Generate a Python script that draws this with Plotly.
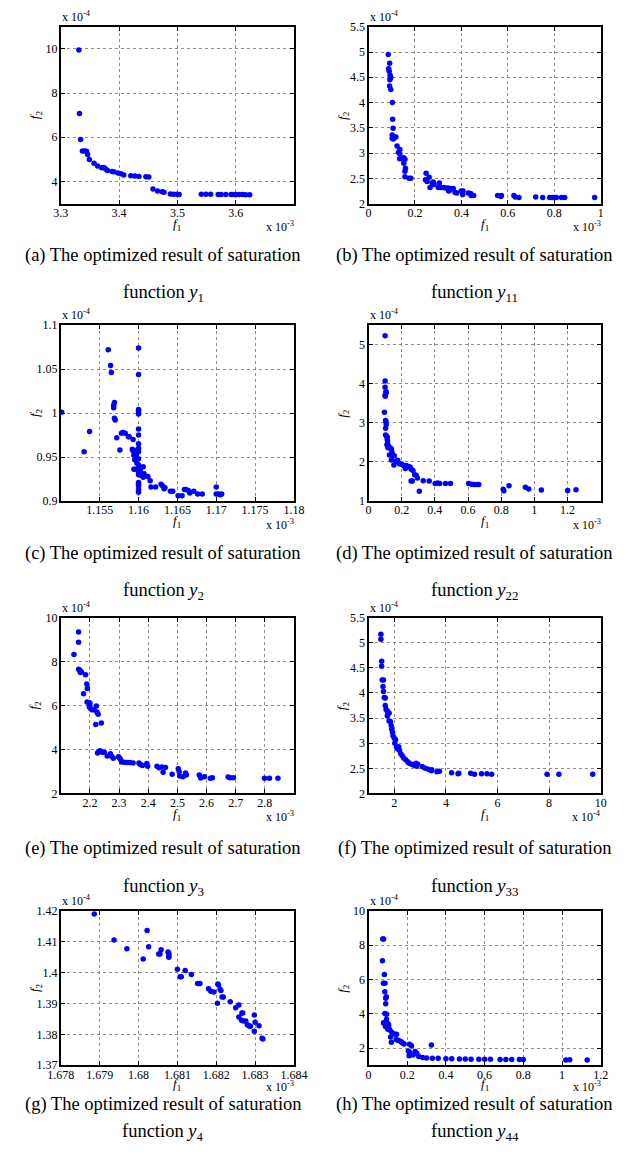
import plotly.graph_objects as go

W, H = 630, 1168

# ---------------- data (scaled values; f1 in x1e-3 or x1e-4, f2 in x1e-4) ----------------
a_f1 = [3.331, 3.332, 3.334, 3.337, 3.341, 3.344, 3.346, 3.349, 3.357, 3.363, 3.370, 3.374, 3.377, 3.380,
        3.388, 3.391, 3.398, 3.403, 3.408, 3.420, 3.427, 3.434, 3.446, 3.451, 3.458, 3.466, 3.474, 3.477,
        3.488, 3.493, 3.499, 3.503, 3.541, 3.549, 3.557, 3.570, 3.575, 3.583, 3.592, 3.596, 3.601, 3.606,
        3.612, 3.617, 3.624]
a_f2 = [9.95, 7.08, 5.90, 5.38, 5.38, 5.37, 5.22, 5.00, 4.83, 4.70, 4.62, 4.63, 4.57, 4.50,
        4.45, 4.44, 4.39, 4.35, 4.30, 4.26, 4.25, 4.23, 4.21, 4.20, 3.66, 3.57, 3.54, 3.51,
        3.44, 3.42, 3.42, 3.41, 3.42, 3.42, 3.42, 3.41, 3.41, 3.41, 3.41, 3.41, 3.41, 3.41,
        3.41, 3.40, 3.40]

b_f1 = [0.085, 0.091, 0.087, 0.089, 0.093, 0.096, 0.092, 0.091, 0.096, 0.103, 0.104, 0.106, 0.102, 0.102,
        0.107, 0.111, 0.118, 0.123, 0.129, 0.135, 0.135, 0.134, 0.144, 0.152, 0.157, 0.152, 0.159, 0.157,
        0.157, 0.175, 0.182, 0.248, 0.245, 0.252, 0.261, 0.265, 0.274, 0.279, 0.282, 0.305, 0.301, 0.312,
        0.323, 0.331, 0.341, 0.351, 0.345, 0.352, 0.365, 0.373, 0.380, 0.399, 0.407, 0.406, 0.430, 0.440,
        0.442, 0.453, 0.556, 0.572, 0.570, 0.626, 0.632, 0.648, 0.720, 0.750, 0.780, 0.792, 0.802, 0.809,
        0.831, 0.845, 0.974]
b_f2 = [4.95, 4.78, 4.67, 4.62, 4.54, 4.49, 4.45, 4.33, 4.26, 4.00, 3.67, 3.49, 3.36, 3.29,
        3.28, 3.32, 3.32, 3.14, 3.01, 3.07, 2.98, 2.89, 2.89, 2.91, 2.88, 2.80, 2.70, 2.64,
        2.53, 2.50, 2.50, 2.60, 2.47, 2.44, 2.52, 2.32, 2.41, 2.43, 2.38, 2.41, 2.32, 2.32,
        2.32, 2.31, 2.31, 2.30, 2.25, 2.27, 2.30, 2.22, 2.21, 2.25, 2.25, 2.18, 2.21, 2.20,
        2.16, 2.16, 2.16, 2.16, 2.14, 2.16, 2.13, 2.12, 2.13, 2.12, 2.12, 2.12, 2.12, 2.12,
        2.12, 2.12, 2.12]

c_f1 = [1.1501, 1.1530, 1.1537, 1.1561, 1.1564, 1.1565, 1.1569, 1.1568, 1.1568, 1.1569, 1.1570, 1.1572,
        1.1576, 1.1578, 1.1580, 1.1583, 1.1587, 1.1588, 1.1593, 1.1592, 1.1593, 1.1594, 1.1595, 1.1597,
        1.1594, 1.1596, 1.1598, 1.1598, 1.1600, 1.1600, 1.1600, 1.1600, 1.1600, 1.1600, 1.1600, 1.1600,
        1.1600, 1.1600, 1.1600, 1.1600, 1.1600, 1.1600, 1.1600, 1.1600, 1.1600, 1.1600, 1.1600, 1.1600,
        1.1602, 1.1603, 1.1604, 1.1606, 1.1607, 1.1606, 1.1612, 1.1615, 1.1616, 1.1622, 1.1629, 1.1631,
        1.1633, 1.1634, 1.1641, 1.1644, 1.1651, 1.1656, 1.1659, 1.1661, 1.1664, 1.1666, 1.1671, 1.1676,
        1.1682, 1.1700, 1.1700, 1.1703, 1.1705, 1.1707]
c_f2 = [1.001, 0.956, 0.979, 1.072, 1.054, 1.046, 1.012, 1.009, 1.006, 0.994, 0.992, 0.972,
        0.958, 0.977, 0.978, 0.977, 0.973, 0.973, 0.970, 0.959, 0.957, 0.952, 0.947, 0.952,
        0.936, 0.936, 0.943, 0.958, 1.074, 1.044, 1.004, 1.002, 0.999, 0.982, 0.975, 0.965,
        0.960, 0.956, 0.948, 0.941, 0.936, 0.933, 0.930, 0.921, 0.919, 0.917, 0.913, 0.910,
        0.935, 0.932, 0.929, 0.939, 0.931, 0.927, 0.928, 0.923, 0.916, 0.916, 0.919, 0.917,
        0.914, 0.915, 0.911, 0.911, 0.906, 0.906, 0.913, 0.913, 0.912, 0.909, 0.911, 0.908,
        0.908, 0.916, 0.908, 0.908, 0.907, 0.908]

d_f1 = [0.100, 0.100, 0.100, 0.105, 0.107, 0.100, 0.101, 0.096, 0.103, 0.105, 0.107, 0.103, 0.103, 0.107,
        0.113, 0.113, 0.115, 0.111, 0.119, 0.117, 0.130, 0.138, 0.126, 0.141, 0.146, 0.138, 0.155, 0.153,
        0.165, 0.176, 0.188, 0.199, 0.211, 0.222, 0.228, 0.241, 0.251, 0.257, 0.268, 0.264, 0.257, 0.278,
        0.287, 0.295, 0.306, 0.330, 0.366, 0.402, 0.418, 0.429, 0.464, 0.494, 0.603, 0.621, 0.636, 0.653,
        0.665, 0.812, 0.816, 0.847, 0.946, 0.966, 1.042, 1.201, 1.251]
d_f2 = [5.23, 4.07, 3.91, 3.80, 3.77, 3.71, 3.68, 3.27, 3.06, 3.03, 2.96, 2.86, 2.69, 2.67,
        2.64, 2.58, 2.52, 2.44, 2.42, 2.36, 2.36, 2.33, 2.18, 2.25, 2.16, 2.05, 2.16, 1.92,
        2.01, 2.04, 1.95, 1.95, 1.91, 1.83, 1.91, 1.88, 1.87, 1.81, 1.78, 1.51, 1.51, 1.67,
        1.66, 1.59, 1.25, 1.52, 1.51, 1.45, 1.46, 1.45, 1.45, 1.45, 1.45, 1.43, 1.42, 1.42,
        1.42, 1.30, 1.26, 1.39, 1.35, 1.31, 1.28, 1.27, 1.29]

e_f1 = [2.145, 2.161, 2.161, 2.161, 2.165, 2.167, 2.171, 2.185, 2.178, 2.189, 2.191, 2.190, 2.196, 2.200,
        2.198, 2.202, 2.207, 2.213, 2.222, 2.224, 2.228, 2.220, 2.239, 2.226, 2.230, 2.235, 2.242, 2.249,
        2.259, 2.270, 2.274, 2.280, 2.298, 2.302, 2.305, 2.309, 2.318, 2.327, 2.337, 2.348, 2.368, 2.373,
        2.380, 2.395, 2.398, 2.430, 2.437, 2.447, 2.451, 2.459, 2.482, 2.503, 2.506, 2.508, 2.519, 2.528,
        2.531, 2.575, 2.580, 2.593, 2.613, 2.620, 2.674, 2.681, 2.692, 2.799, 2.816, 2.845]
e_f2 = [8.32, 9.34, 8.88, 7.65, 7.60, 7.50, 7.53, 7.40, 6.53, 6.98, 6.78, 6.16, 6.13, 6.11,
        5.93, 5.86, 5.81, 5.81, 5.98, 5.71, 5.60, 5.14, 5.21, 3.84, 3.91, 3.94, 3.88, 3.87,
        3.70, 3.81, 3.69, 3.60, 3.67, 3.61, 3.54, 3.43, 3.42, 3.41, 3.41, 3.39, 3.38, 3.32,
        3.27, 3.36, 3.24, 3.24, 3.17, 3.20, 2.96, 3.18, 2.87, 3.12, 2.99, 2.79, 2.76, 2.93,
        2.84, 2.84, 2.70, 2.76, 2.69, 2.72, 2.75, 2.72, 2.72, 2.69, 2.69, 2.69]

f_f1 = [1.48, 1.48, 1.51, 1.51, 1.53, 1.58, 1.56, 1.58, 1.61, 1.65, 1.65, 1.68, 1.73, 1.75, 1.80, 1.73,
        1.80, 1.85, 1.88, 1.90, 1.93, 1.95, 2.00, 2.05, 2.02, 2.09, 2.12, 2.17, 2.20, 2.25, 2.31, 2.37,
        2.44, 2.52, 2.58, 2.67, 2.76, 2.84, 2.86, 2.91, 3.09, 3.20, 3.32, 3.43, 3.45, 3.65, 3.75, 4.22,
        4.47, 4.50, 4.96, 5.11, 5.38, 5.59, 5.77, 7.92, 8.38, 9.69]
f_f2 = [5.17, 5.07, 4.63, 4.53, 4.26, 4.26, 4.13, 4.03, 3.91, 3.90, 3.75, 3.67, 3.64, 3.58, 3.60, 3.54,
        3.44, 3.43, 3.35, 3.28, 3.22, 3.15, 3.10, 3.07, 3.00, 2.92, 2.89, 2.93, 2.86, 2.79, 2.75, 2.70,
        2.67, 2.63, 2.60, 2.58, 2.56, 2.60, 2.54, 2.58, 2.53, 2.50, 2.48, 2.45, 2.47, 2.43, 2.44, 2.41,
        2.39, 2.40, 2.40, 2.38, 2.39, 2.39, 2.38, 2.38, 2.38, 2.38]

g_f1 = [1.67886, 1.67937, 1.67970, 1.68012, 1.68022, 1.68026, 1.68052, 1.68055, 1.68058, 1.68076, 1.68078,
        1.68078, 1.68078, 1.68100, 1.68107, 1.68110, 1.68120, 1.68136, 1.68152, 1.68158, 1.68180, 1.68186,
        1.68194, 1.68204, 1.68206, 1.68210, 1.68212, 1.68215, 1.68218, 1.68203, 1.68236, 1.68250, 1.68258,
        1.68266, 1.68268, 1.68258, 1.68265, 1.68270, 1.68276, 1.68280, 1.68284, 1.68288, 1.68298, 1.68300,
        1.68310, 1.68298, 1.68318, 1.68320]
g_f2 = [1.4190, 1.4106, 1.4078, 1.4044, 1.4137, 1.4084, 1.4061, 1.4061, 1.4074, 1.4067, 1.4062,
        1.4055, 1.4050, 1.4011, 1.3987, 1.3987, 1.4007, 1.3994, 1.3965, 1.3965, 1.3948, 1.3940,
        1.3937, 1.3963, 1.3960, 1.3946, 1.3942, 1.3921, 1.3921, 1.3901, 1.3906, 1.3886, 1.3895,
        1.3869, 1.3869, 1.3856, 1.3846, 1.3843, 1.3843, 1.3831, 1.3828, 1.3826, 1.3863, 1.3839,
        1.3828, 1.3810, 1.3787, 1.3785]

h_f1 = [0.074, 0.078, 0.072, 0.082, 0.077, 0.085, 0.084, 0.092, 0.089, 0.089, 0.085, 0.093, 0.093, 0.079,
        0.088, 0.098, 0.078, 0.088, 0.094, 0.104, 0.104, 0.088, 0.100, 0.110, 0.114, 0.120, 0.133, 0.145,
        0.149, 0.118, 0.143, 0.159, 0.169, 0.176, 0.184, 0.212, 0.222, 0.325, 0.206, 0.212, 0.241, 0.250,
        0.210, 0.230, 0.260, 0.280, 0.300, 0.330, 0.360, 0.400, 0.430, 0.470, 0.500, 0.530, 0.570, 0.600,
        0.630, 0.680, 0.710, 0.740, 0.780, 0.800, 1.020, 1.040, 1.130]
h_f2 = [8.36, 8.36, 7.09, 6.30, 5.79, 5.79, 5.29, 4.99, 4.90, 4.59, 4.02, 3.97, 3.68, 3.44,
        3.44, 3.44, 3.48, 3.45, 3.31, 3.36, 3.23, 3.26, 3.09, 3.06, 2.64, 2.92, 2.82, 2.81,
        2.47, 2.34, 2.50, 2.42, 2.37, 2.29, 2.24, 2.22, 2.13, 2.18, 1.83, 1.75, 1.80, 1.68,
        1.55, 1.60, 1.50, 1.45, 1.42, 1.40, 1.40, 1.38, 1.38, 1.36, 1.36, 1.35, 1.35, 1.34,
        1.34, 1.33, 1.33, 1.33, 1.33, 1.33, 1.30, 1.32, 1.30]

# axis settings: ranges and tick values / labels
a_xr, a_xt, a_xl = [3.3, 3.7], [3.3, 3.4, 3.5, 3.6], ["3.3", "3.4", "3.5", "3.6"]
a_yr, a_yt, a_yl = [3, 11], [4, 6, 8, 10], ["4", "6", "8", "10"]
b_xr, b_xt, b_xl = [0, 1], [0, 0.2, 0.4, 0.6, 0.8, 1], ["0", "0.2", "0.4", "0.6", "0.8", "1"]
b_yr, b_yt, b_yl = [2, 5.5], [2, 2.5, 3, 3.5, 4, 4.5, 5, 5.5], ["2", "2.5", "3", "3.5", "4", "4.5", "5", "5.5"]
c_xr, c_xt, c_xl = [1.15, 1.18], [1.155, 1.16, 1.165, 1.17, 1.175, 1.18], ["1.155", "1.16", "1.165", "1.17", "1.175", "1.18"]
c_yr, c_yt, c_yl = [0.9, 1.1], [0.9, 0.95, 1.0, 1.05, 1.1], ["0.9", "0.95", "1", "1.05", "1.1"]
d_xr, d_xt, d_xl = [0, 1.4], [0, 0.2, 0.4, 0.6, 0.8, 1.0, 1.2], ["0", "0.2", "0.4", "0.6", "0.8", "1", "1.2"]
d_yr, d_yt, d_yl = [1, 5.5], [1, 2, 3, 4, 5], ["1", "2", "3", "4", "5"]
e_xr, e_xt, e_xl = [2.1, 2.9], [2.2, 2.3, 2.4, 2.5, 2.6, 2.7, 2.8], ["2.2", "2.3", "2.4", "2.5", "2.6", "2.7", "2.8"]
e_yr, e_yt, e_yl = [2, 10], [2, 4, 6, 8, 10], ["2", "4", "6", "8", "10"]
f_xr, f_xt, f_xl = [1, 10], [2, 4, 6, 8, 10], ["2", "4", "6", "8", "10"]
f_yr, f_yt, f_yl = [2, 5.5], [2, 2.5, 3, 3.5, 4, 4.5, 5, 5.5], ["2", "2.5", "3", "3.5", "4", "4.5", "5", "5.5"]
g_xr, g_xt, g_xl = [1.678, 1.684], [1.678, 1.679, 1.680, 1.681, 1.682, 1.683, 1.684], ["1.678", "1.679", "1.68", "1.681", "1.682", "1.683", "1.684"]
g_yr, g_yt, g_yl = [1.37, 1.42], [1.37, 1.38, 1.39, 1.40, 1.41, 1.42], ["1.37", "1.38", "1.39", "1.4", "1.41", "1.42"]
h_xr, h_xt, h_xl = [0, 1.2], [0, 0.2, 0.4, 0.6, 0.8, 1.0, 1.2], ["0", "0.2", "0.4", "0.6", "0.8", "1", "1.2"]
h_yr, h_yt, h_yl = [1, 10], [2, 4, 6, 8, 10], ["2", "4", "6", "8", "10"]

x_exp = ["-3", "-3", "-3", "-3", "-3", "-4", "-3", "-3"]
letters = ["a", "b", "c", "d", "e", "f", "g", "h"]
subs = ["1", "11", "2", "22", "3", "33", "4", "44"]

panels = [
    (a_f1, a_f2, a_xr, a_xt, a_xl, a_yr, a_yt, a_yl),
    (b_f1, b_f2, b_xr, b_xt, b_xl, b_yr, b_yt, b_yl),
    (c_f1, c_f2, c_xr, c_xt, c_xl, c_yr, c_yt, c_yl),
    (d_f1, d_f2, d_xr, d_xt, d_xl, d_yr, d_yt, d_yl),
    (e_f1, e_f2, e_xr, e_xt, e_xl, e_yr, e_yt, e_yl),
    (f_f1, f_f2, f_xr, f_xt, f_xl, f_yr, f_yt, f_yl),
    (g_f1, g_f2, g_xr, g_xt, g_xl, g_yr, g_yt, g_yl),
    (h_f1, h_f2, h_xr, h_xt, h_xl, h_yr, h_yt, h_yl),
]

# ---------------- layout geometry (pixels) ----------------
cols_px = [(49, 293), (371, 614)]
rows_px = [(20, 199), (322, 500), (618, 796), (915, 1071)]
cap_px = [(252, 290), (553, 592), (852, 891), (1111, 1139)]
cap_x = [156, 482]
f1_off = [21, 21, 21, 20]
exp_off = [14, 14, 14, 12]

FONT = "Liberation Serif"


def px_x(p):
    return p / W


def px_y(p):
    return 1 - p / H


fig = go.Figure()
annotations = []
layout = dict(width=W, height=H, margin=dict(l=0, r=0, t=0, b=0), autosize=False,
              paper_bgcolor="white", plot_bgcolor="white", showlegend=False,
              font=dict(family=FONT, size=12, color="black"))

for i, (xs, ys, xr, xt, xl, yr, yt, yl) in enumerate(panels):
    r, c = divmod(i, 2)
    n = "" if i == 0 else str(i + 1)
    x0, x1 = cols_px[c]
    y0, y1 = rows_px[r]
    fig.add_trace(go.Scatter(x=xs, y=ys, mode="markers", xaxis="x" + n, yaxis="y" + n,
                             marker=dict(color="#0000FF", size=5.5, line=dict(width=0)),
                             cliponaxis=False))
    common = dict(showline=True, linecolor="black", linewidth=2, mirror="ticks",
                  ticks="inside", ticklen=4, tickcolor="black", tickwidth=1,
                  showgrid=True, gridcolor="#8c8c8c", griddash="dot", gridwidth=1,
                  zeroline=False, tickfont=dict(family=FONT, size=12, color="black"),
                  tickmode="array")
    layout["xaxis" + n] = dict(common, domain=[px_x(x0), px_x(x1)], range=xr,
                               tickvals=xt, ticktext=xl, anchor="y" + n,
                               ticklabelstandoff=-3)
    layout["yaxis" + n] = dict(common, domain=[px_y(y1), px_y(y0)], range=yr,
                               tickvals=yt, ticktext=yl, anchor="x" + n,
                               ticklabelstandoff=-1)
    # exponent labels
    annotations.append(dict(x=px_x(x0 - 1), y=px_y(y0 - 1), xref="paper", yref="paper",
                            xanchor="left", yanchor="bottom", showarrow=False,
                            text="x 10<sup>-4</sup>", font=dict(family=FONT, size=12)))
    annotations.append(dict(x=px_x(x1 + 2), y=px_y(y1 + exp_off[r]), xref="paper", yref="paper",
                            xanchor="right", yanchor="top", showarrow=False,
                            text="x 10<sup>" + x_exp[i] + "</sup>", font=dict(family=FONT, size=12)))
    # axis titles
    annotations.append(dict(x=px_x((x0 + x1) / 2), y=px_y(y1 + f1_off[r]), xref="paper", yref="paper",
                            xanchor="center", yanchor="middle", showarrow=False,
                            text="<i>f</i><sub>1</sub>", font=dict(family=FONT, size=13)))
    annotations.append(dict(x=px_x(x0 - 27), y=px_y((y0 + y1) / 2), xref="paper", yref="paper",
                            xanchor="center", yanchor="middle", showarrow=False, textangle=-90,
                            text="<i>f</i><sub>2</sub>", font=dict(family=FONT, size=13)))
    # captions
    cy1, cy2 = cap_px[r]
    annotations.append(dict(x=px_x(cap_x[c]), y=px_y(cy1), xref="paper", yref="paper",
                            xanchor="center", yanchor="middle", showarrow=False,
                            text="(" + letters[i] + ") The optimized result of saturation",
                            font=dict(family=FONT, size=18.5)))
    annotations.append(dict(x=px_x(cap_x[c]), y=px_y(cy2), xref="paper", yref="paper",
                            xanchor="center", yanchor="middle", showarrow=False,
                            text="function <i>y</i><sub>" + subs[i] + "</sub>",
                            font=dict(family=FONT, size=18.5)))

layout["annotations"] = annotations
fig.update_layout(**layout)
fig.write_html("out.html")
